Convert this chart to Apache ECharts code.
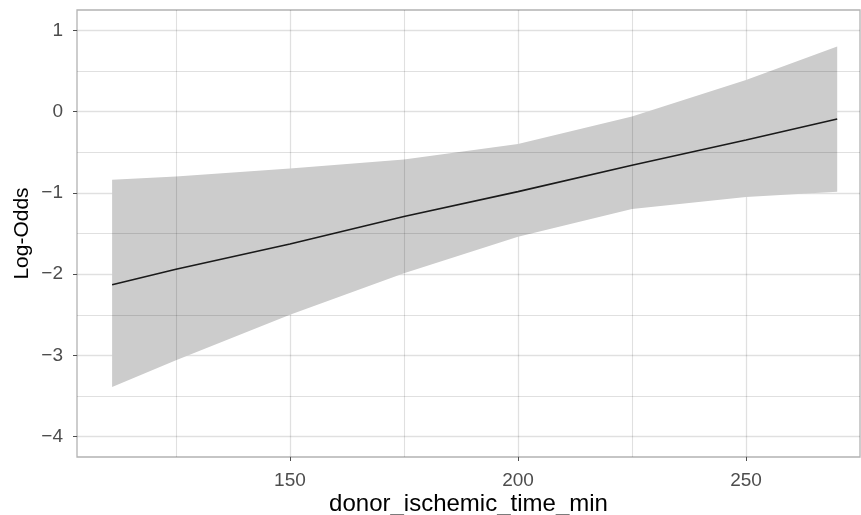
<!DOCTYPE html>
<html>
<head>
<meta charset="utf-8">
<script src="https://cdn.jsdelivr.net/npm/echarts@6/dist/echarts.min.js"></script>
<style>
  html, body { margin: 0; padding: 0; background: #fff; }
  #chart { width: 861px; height: 515px; }
</style>
</head>
<body>
<div id="chart"></div>
<script>
// 数据
var timeMin = [111, 125, 150, 175, 200, 225, 250, 270];
var logOdds = [-2.13, -1.94, -1.63, -1.29, -0.985, -0.66, -0.35, -0.09];
var lowerCI = [-3.39, -3.06, -2.50, -1.99, -1.54, -1.20, -1.05, -0.985];
var upperCI = [-0.84, -0.80, -0.70, -0.59, -0.40, -0.06, 0.39, 0.80];
// 次网格线
var minorX = [125, 175, 225];
var minorY = [-3.5, -2.5, -1.5, -0.5, 0.5];

var myChart = echarts.init(document.getElementById('chart'));

// 网格线半透明，压在置信带上会变深
var gridColor = 'rgba(0,0,0,0.12)';
var font = 'Liberation Sans, Arial, sans-serif';

function linePairs(ys) {
  return timeMin.map(function (x, i) { return [x, ys[i]]; });
}

// 置信带
function renderRibbon(params, api) {
  var pts = [];
  for (var i = 0; i < timeMin.length; i++) {
    pts.push(api.coord([timeMin[i], upperCI[i]]));
  }
  for (var j = timeMin.length - 1; j >= 0; j--) {
    pts.push(api.coord([timeMin[j], lowerCI[j]]));
  }
  return {
    type: 'polygon',
    shape: { points: pts },
    style: { fill: '#cccccc' }
  };
}

var minorLines = minorX.map(function (v) { return { xAxis: v }; })
  .concat(minorY.map(function (v) { return { yAxis: v }; }));

var option = {
  animation: false,
  grid: {
    left: 77,
    top: 10,
    right: 1,
    bottom: 58,
    outerBoundsMode: 'none',
    show: true,
    borderColor: '#b3b3b3',
    borderWidth: 1.3,
    backgroundColor: '#fff'
  },
  xAxis: {
    type: 'value',
    min: 103.3,
    max: 275,
    splitNumber: 3,
    name: 'donor_ischemic_time_min',
    nameLocation: 'middle',
    nameGap: 35,
    nameMoveOverlap: false,
    nameTextStyle: { color: '#000', fontSize: 24, fontFamily: font },
    axisLine: { show: false, onZero: false },
    axisTick: { show: true, length: 4, lineStyle: { color: '#4d4d4d' } },
    axisLabel: {
      color: '#4d4d4d', fontSize: 19, fontFamily: font, margin: 14,
      showMinLabel: false, showMaxLabel: false
    },
    splitLine: {
      show: true, showMinLine: false, showMaxLine: false,
      lineStyle: { color: gridColor, width: 1.3 }
    }
  },
  yAxis: {
    type: 'value',
    min: -4.25,
    max: 1.25,
    name: 'Log-Odds',
    nameLocation: 'middle',
    nameGap: 44,
    nameMoveOverlap: false,
    nameTextStyle: { color: '#000', fontSize: 21, fontFamily: font },
    axisLine: { show: false, onZero: false },
    axisTick: { show: true, length: 4, lineStyle: { color: '#4d4d4d' } },
    axisLabel: {
      color: '#4d4d4d', fontSize: 19, fontFamily: font, margin: 14,
      showMinLabel: false, showMaxLabel: false,
      formatter: function (v) { return v < 0 ? '\u2212' + Math.abs(v) : String(v); }
    },
    splitLine: {
      show: true, showMinLine: false, showMaxLine: false,
      lineStyle: { color: gridColor, width: 1.3 }
    }
  },
  series: [
    {
      type: 'line',
      data: [],
      z: 1,
      markLine: {
        silent: true,
        symbol: 'none',
        label: { show: false },
        lineStyle: { color: gridColor, width: 1.1, type: 'solid' },
        data: minorLines
      }
    },
    {
      type: 'custom',
      z: 0,
      renderItem: renderRibbon,
      data: [0]
    },
    {
      type: 'line',
      z: 4,
      data: linePairs(logOdds),
      showSymbol: false,
      lineStyle: { color: '#1a1a1a', width: 1.6 }
    }
  ]
};

myChart.setOption(option);
</script>
</body>
</html>
